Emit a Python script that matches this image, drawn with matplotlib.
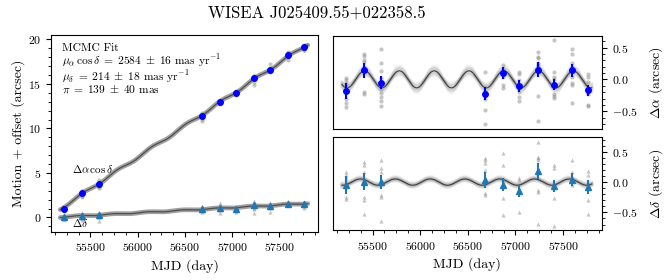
import numpy as np
import matplotlib
matplotlib.use("Agg")
import matplotlib.pyplot as plt
from matplotlib.ticker import MultipleLocator

plt.rcParams['font.family'] = ['cmr10', 'DejaVu Serif']
plt.rcParams['mathtext.fontset'] = 'cm'
plt.rcParams['axes.formatter.use_mathtext'] = True
plt.rcParams['axes.unicode_minus'] = True

# ---------------- data ----------------
title = "WISEA J025409.55+022358.5"
epochs = [55220, 55412, 55587, 56678, 56870, 57038, 57231, 57402, 57594, 57762]

# left panel: motion + offset (arcsec)
ra_motion = [0.98, 2.72, 3.72, 11.35, 13.02, 14.02, 15.65, 16.6, 18.25, 19.1]
dec_motion = [0.02, 0.2, 0.25, 0.9, 1.05, 1.0, 1.35, 1.3, 1.5, 1.5]

# right panels: residual after proper motion (arcsec)
ra_res = [-0.18, 0.145, -0.05, -0.22, 0.10, -0.10, 0.156, -0.08, 0.145, -0.17]
ra_err = [0.13, 0.12, 0.10, 0.10, 0.10, 0.09, 0.11, 0.08, 0.10, 0.09]
dec_res = [-0.05, 0.01, 0.0, 0.03, -0.04, -0.15, 0.18, -0.07, 0.04, -0.08]
dec_err = [0.15, 0.14, 0.12, 0.13, 0.11, 0.10, 0.13, 0.10, 0.11, 0.11]

# single-exposure residuals (arcsec)
ra_single = [
    [0.03, -0.01, -0.05, -0.10, -0.17, -0.30, -0.37, -0.43],
    [0.40, 0.36, 0.31, 0.27, 0.20, -0.19, -0.23],
    [0.48, 0.25, 0.13, 0.02, -0.15, -0.21, -0.27, -0.34, -0.42],
    [0.12, -0.12, -0.18, -0.25, -0.30, -0.48, -0.69],
    [0.22, 0.17, 0.10, 0.04, -0.09, -0.14],
    [0.12, 0.08, -0.01, -0.09, -0.20, -0.27, -0.33],
    [0.43, 0.35, 0.33, 0.26, 0.22, 0.19, -0.26, -0.65],
    [0.61, 0.12, 0.04, 0.0, -0.23, -0.26, -0.29],
    [0.47, 0.395, 0.25, 0.20, 0.12, 0.04, -0.06, -0.09, -0.375],
    [0.09, 0.04, -0.04, -0.22, -0.40, -0.42],
]
dec_single = [
    [0.16, 0.12, 0.065, -0.24, -0.28],
    [0.34, 0.285, 0.175, -0.24, -0.29, -0.53],
    [0.36, 0.23, 0.175, -0.21, -0.24, -0.64],
    [0.40, 0.36, 0.31, 0.20, -0.18, -0.21],
    [0.48, 0.285, 0.04, -0.26, -0.54],
    [0.065, 0.04, -0.50],
    [0.67, 0.42, 0.40, 0.36, -0.13, -0.165, -0.69],
    [0.285, 0.23, -0.26, -0.72],
    [0.36, 0.175, 0.04, -0.045],
    [0.19, 0.12, -0.30, -0.52],
]

# MCMC fit parameters (mas, mas/yr)
mu_a, mu_a_err = 2584.0, 16.0
mu_d, mu_d_err = 214.0, 18.0
plx, plx_err = 139.0, 40.0
ra_deg, dec_deg = 43.5398, 2.3996

fit_lines = [
    "MCMC Fit",
    r"$\mu_\alpha\,\cos\delta\;=\;2584\;\pm\;16$ mas yr$^{-1}$",
    r"$\mu_\delta\;=\;214\;\pm\;18$ mas yr$^{-1}$",
    r"$\pi\;=\;139\;\pm\;40$ mas",
]

# ---------------- model ----------------
def parallax_factors(mjd):
    mjd = np.asarray(mjd, dtype=float)
    d = mjd - 51544.5
    L = np.radians(280.460 + 0.9856474 * d)
    g = np.radians(357.528 + 0.9856003 * d)
    lam = L + np.radians(1.915) * np.sin(g) + np.radians(0.020) * np.sin(2 * g)
    R = 1.00014 - 0.01671 * np.cos(g) - 0.00014 * np.cos(2 * g)
    eps = np.radians(23.439)
    X = R * np.cos(lam)
    Y = R * np.cos(eps) * np.sin(lam)
    Z = R * np.sin(eps) * np.sin(lam)
    a, dd = np.radians(ra_deg), np.radians(dec_deg)
    pa = Y * np.cos(a) - X * np.sin(a)
    pd = -(X * np.cos(a) * np.sin(dd) + Y * np.sin(a) * np.sin(dd) - Z * np.cos(dd))
    return pa, pd

ep = np.array(epochs, dtype=float)
tref = ep[0]
off_a = np.mean(np.array(ra_motion) - np.array(ra_res) - mu_a / 1000 * (ep - tref) / 365.25)
off_d = np.mean(np.array(dec_motion) - np.array(dec_res) - mu_d / 1000 * (ep - tref) / 365.25)

t = np.linspace(55180, 57800, 1500)
pa_t, pd_t = parallax_factors(t)
curve_a = off_a + mu_a / 1000 * (t - tref) / 365.25 + plx / 1000 * pa_t
curve_d = off_d + mu_d / 1000 * (t - tref) / 365.25 + plx / 1000 * pd_t

# ---------------- figure ----------------
fig = plt.figure(figsize=(6.65, 2.8), dpi=100)
axL = fig.add_axes([0.0767, 0.1725, 0.4015, 0.7025])
axA = fig.add_axes([0.5003, 0.5404, 0.405, 0.331])
axD = fig.add_axes([0.5003, 0.1786, 0.405, 0.331], sharex=axA)

fig.text(0.477, 0.953, title, ha='center', va='center', fontsize=12)

gray_kw = dict(color='0.55', alpha=0.5, markersize=3, linestyle='none', markeredgewidth=0)

# left panel
for c in (curve_a, curve_d):
    axL.plot(t, c, color='0.5', lw=3.4, alpha=0.75, solid_capstyle='round')
    axL.plot(t, c, color='0.3', lw=0.9)
for i, e in enumerate(epochs):
    ga = np.array(ra_single[i]) - ra_res[i] + ra_motion[i]
    gd = np.array(dec_single[i]) - dec_res[i] + dec_motion[i]
    axL.plot([e] * len(ga), ga, marker='o', **gray_kw)
    axL.plot([e] * len(gd), gd, marker='^', **gray_kw)
axL.errorbar(epochs, ra_motion, yerr=ra_err, fmt='o', color='blue', ms=4, lw=1.2, capsize=0, zorder=5)
axL.errorbar(epochs, dec_motion, yerr=dec_err, fmt='^', color='#1f77b4', ms=4, lw=1.2, capsize=0, zorder=5)
axL.text(55300, 5.5, r'$\Delta\alpha\,\cos\delta$', fontsize=8, ha='left', va='center')
axL.text(55300, -0.6, r'$\Delta\delta$', fontsize=8, ha='left', va='center')
axL.text(0.04, 0.955, "\n".join(fit_lines), transform=axL.transAxes,
         ha='left', va='top', fontsize=8.3, linespacing=0.9)
axL.set_ylim(-1.6, 20.5)
axL.set_xlim(55082, 57908)
axL.set_ylabel('Motion + offset (arcsec)', fontsize=10, labelpad=2)
axL.set_xlabel('MJD (day)', fontsize=10)
axL.yaxis.set_major_locator(MultipleLocator(5))
axL.yaxis.set_minor_locator(MultipleLocator(1))
axL.xaxis.set_major_locator(MultipleLocator(500))
axL.xaxis.set_minor_locator(MultipleLocator(125))
axL.tick_params(which='both', direction='out', top=False, right=False, labelsize=8.5)

# right panels
def draw_res(ax, pf, res, err, singles, marker, color):
    for k in np.linspace(-1.6, 1.6, 9):
        for j in np.linspace(-1.5, 1.5, 5):
            c = (plx + k * plx_err) / 1000 * pf + j * 0.015
            ax.plot(t, c, color='0.45', lw=2.2, alpha=0.02)
    ax.plot(t, plx / 1000 * pf, color='0.25', lw=0.8)
    for i, e in enumerate(epochs):
        ax.plot([e] * len(singles[i]), singles[i], marker=marker, **gray_kw)
    ax.errorbar(epochs, res, yerr=err, fmt=marker, color=color, ms=4, lw=1.5, capsize=0, zorder=5)
    ax.yaxis.tick_right()
    ax.yaxis.set_label_position('right')
    ax.yaxis.set_major_locator(MultipleLocator(0.5))
    ax.yaxis.set_minor_locator(MultipleLocator(0.1))
    ax.tick_params(which='both', direction='out', left=False, top=False, labelsize=8.5)

draw_res(axA, pa_t, ra_res, ra_err, ra_single, 'o', 'blue')
draw_res(axD, pd_t, dec_res, dec_err, dec_single, '^', '#1f77b4')
axA.set_ylim(-0.77, 0.68)
axD.set_ylim(-0.79, 0.74)
axA.set_xlim(55082, 57908)
axA.tick_params(axis='x', which='both', bottom=False, labelbottom=False)
axD.xaxis.set_major_locator(MultipleLocator(500))
axD.xaxis.set_minor_locator(MultipleLocator(125))
axA.set_ylabel(r'$\Delta\alpha$ (arcsec)', fontsize=10, labelpad=7)
axD.set_ylabel(r'$\Delta\delta$ (arcsec)', fontsize=10, labelpad=7)
axD.set_xlabel('MJD (day)', fontsize=10)

fig.savefig('out.png', dpi=100)
